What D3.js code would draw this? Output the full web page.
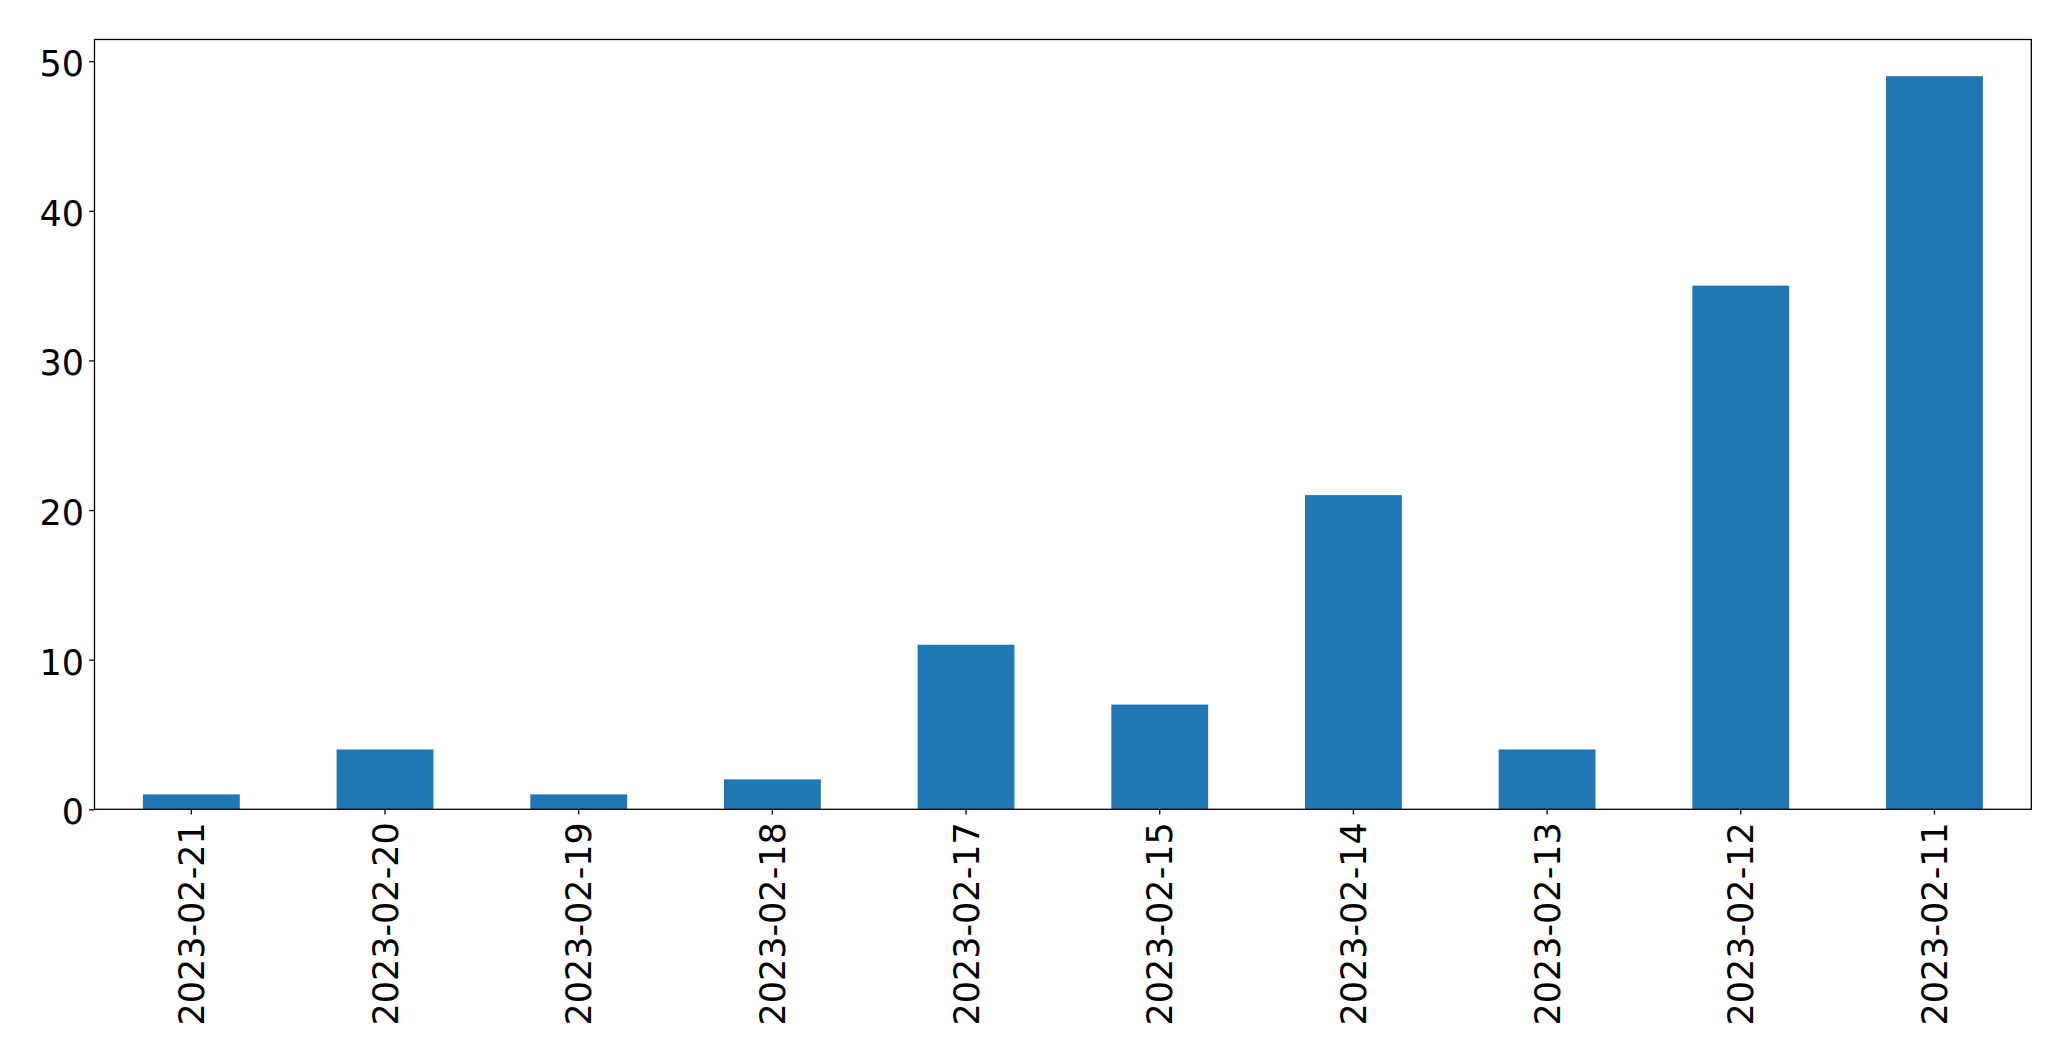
<!DOCTYPE html>
<html>
<head>
<meta charset="utf-8">
<script src="https://cdn.jsdelivr.net/npm/d3@7"></script>
<style>
  html, body { margin: 0; padding: 0; background: #fff; }
  svg { display: block; }
  text { font-family: "DejaVu Sans", sans-serif; fill: #000; }
</style>
</head>
<body>
<svg id="chart" width="2071" height="1061"></svg>
<script>
const categories = ["2023-02-21","2023-02-20","2023-02-19","2023-02-18","2023-02-17","2023-02-15","2023-02-14","2023-02-13","2023-02-12","2023-02-11"];
const values = [1, 4, 1, 2, 11, 7, 21, 4, 35, 49];
const yTicks = [0, 10, 20, 30, 40, 50];

const W = 2071, H = 1061;
const m = { left: 94.5, right: 2031.3, top: 39.5, bottom: 809.3 };
const fontSize = 35;
const tickLen = 5.3;

const svg = d3.select("#chart");

const x = d3.scaleBand()
  .domain(categories)
  .range([m.left, m.right])
  .paddingInner(0.5)
  .paddingOuter(0.25);

const yMax = d3.max(values) * 1.05;
const y = d3.scaleLinear().domain([0, yMax]).range([m.bottom, m.top]);

// bars
svg.append("g").selectAll("rect")
  .data(values)
  .join("rect")
  .attr("x", (d, i) => x(categories[i]))
  .attr("y", d => y(d))
  .attr("width", x.bandwidth())
  .attr("height", d => y(0) - y(d))
  .attr("fill", "#1f77b4");

// y axis
const yAxis = d3.axisLeft(y).tickValues(yTicks).tickSize(tickLen).tickPadding(5.2).tickFormat(d3.format("d"));
const gy = svg.append("g").attr("transform", `translate(${m.left},0)`).call(yAxis);
gy.select(".domain").remove();
gy.selectAll(".tick line").attr("stroke", "#000").attr("stroke-width", 1.3);
gy.selectAll(".tick text").attr("font-size", fontSize).attr("font-family", "DejaVu Sans").attr("dy", "0.41em");

// x axis
const xAxis = d3.axisBottom(x).tickSize(tickLen).tickPadding(7.6);
const gx = svg.append("g").attr("transform", `translate(0,${m.bottom})`).call(xAxis);
gx.select(".domain").remove();
gx.selectAll(".tick line").attr("stroke", "#000").attr("stroke-width", 1.3);
gx.selectAll(".tick text")
  .attr("font-size", fontSize)
  .attr("font-family", "DejaVu Sans")
  .attr("text-anchor", "end")
  .attr("dy", "0.36em")
  .attr("x", 0)
  .attr("y", 0)
  .attr("transform", `translate(0,${tickLen + 7.6}) rotate(-90)`);

// frame
svg.append("rect")
  .attr("x", m.left).attr("y", m.top)
  .attr("width", m.right - m.left).attr("height", m.bottom - m.top)
  .attr("fill", "none").attr("stroke", "#000").attr("stroke-width", 1.3);
</script>
</body>
</html>
